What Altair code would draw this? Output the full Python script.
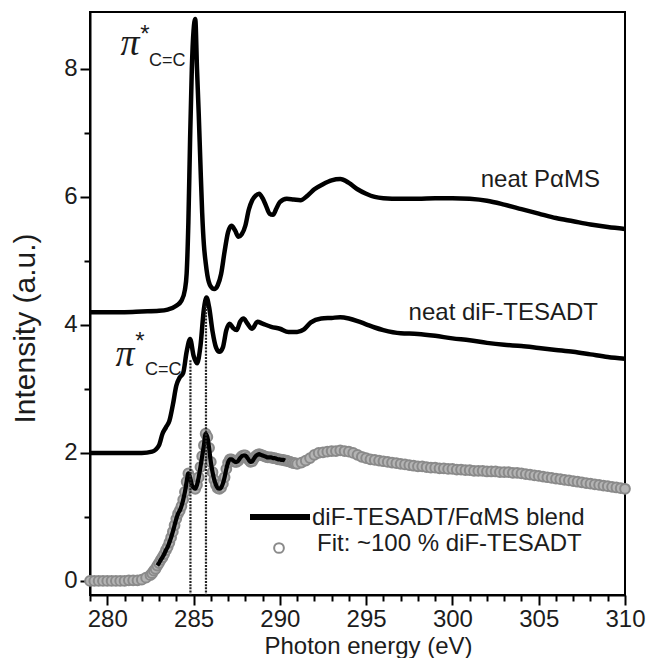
import altair as alt
import pandas as pd

# ---------------- data ----------------
pams_energy = [279, 280, 281, 282, 283, 283.5, 284.0, 284.3, 284.5, 284.6, 284.7, 284.8, 284.9,
               285.0, 285.1, 285.2, 285.3, 285.4, 285.5, 285.6, 285.7, 285.8, 286.0, 286.2, 286.4,
               286.6, 286.8, 287.0, 287.2, 287.4, 287.6, 287.8, 288.0, 288.2, 288.4, 288.6, 288.8,
               289.0, 289.2, 289.4, 289.6, 289.8, 290.0, 290.4, 290.8, 291.2, 291.6, 292.0, 292.5,
               293.0, 293.5, 294.0, 294.5, 295.0, 295.5, 296, 297, 298, 299, 300, 301, 302, 303,
               304, 305, 306, 307, 308, 309, 310]
pams_intensity = [4.20, 4.20, 4.20, 4.21, 4.22, 4.24, 4.30, 4.38, 4.55, 4.80, 5.60, 6.90, 8.00,
                  8.60, 8.78, 8.00, 7.30, 6.50, 5.75, 5.25, 4.98, 4.78, 4.60, 4.56, 4.62,
                  4.80, 5.15, 5.45, 5.55, 5.48, 5.38, 5.42, 5.55, 5.80, 5.95, 6.02, 6.05,
                  5.98, 5.86, 5.74, 5.72, 5.82, 5.92, 5.97, 5.96, 5.95, 6.02, 6.12, 6.20,
                  6.26, 6.28, 6.22, 6.12, 6.05, 6.00, 5.98, 5.97, 5.97, 5.98, 5.98, 5.97, 5.94, 5.88,
                  5.81, 5.74, 5.67, 5.62, 5.57, 5.53, 5.50]

dif_energy = [279, 280, 281, 282, 282.6, 283.0, 283.2, 283.4, 283.6, 283.8, 284.0, 284.2, 284.4,
              284.6, 284.8, 285.0, 285.2, 285.4, 285.6, 285.75, 285.9, 286.1, 286.3, 286.5, 286.7,
              286.9, 287.1, 287.3, 287.5, 287.7, 287.9, 288.1, 288.4, 288.7, 289.0, 289.5, 290.0,
              290.5, 291.0, 291.4, 291.8, 292.4, 293.0, 293.5, 294.0, 294.5, 295.0, 295.5, 296.0,
              297.0, 298.0, 299.0, 300.0, 301.0, 302.0, 303.0, 304.0, 305.0, 306.0, 307.0, 308.0,
              309.0, 310.0]
dif_intensity = [2.00, 2.00, 2.00, 2.00, 2.02, 2.12, 2.30, 2.40, 2.50, 2.75, 3.05, 3.18, 3.25,
                 3.58, 3.78, 3.52, 3.40, 3.67, 4.25, 4.43, 4.28, 3.90, 3.65, 3.58, 3.65,
                 3.92, 4.02, 3.95, 3.92, 4.05, 4.10, 4.03, 3.94, 4.05, 4.02, 3.97, 3.94,
                 3.89, 3.89, 3.93, 4.04, 4.10, 4.11, 4.12, 4.10, 4.06, 4.01, 3.96, 3.92,
                 3.87, 3.86, 3.83, 3.79, 3.76, 3.72, 3.69, 3.67, 3.64, 3.61, 3.58, 3.54,
                 3.50, 3.47]

blend_energy = [
    279.0, 279.25, 279.5, 279.75, 280.0, 280.25, 280.5, 280.75, 281.0, 281.25, 281.5, 281.75, 282.0, 282.25,
    282.5, 282.6, 282.7, 282.8, 282.9,
    283.0, 283.1, 283.2, 283.3, 283.4, 283.5, 283.6, 283.7, 283.8, 283.9,
    284.0, 284.1, 284.2, 284.3, 284.4, 284.5, 284.6, 284.7, 284.8, 284.9,
    285.0, 285.1, 285.2, 285.3, 285.4, 285.5, 285.6, 285.7, 285.8, 285.9,
    286.0, 286.1, 286.2, 286.3, 286.4, 286.5, 286.6, 286.7, 286.8, 286.9,
    287.0, 287.1, 287.2, 287.3, 287.4, 287.5, 287.6, 287.7, 287.8, 287.9,
    288.0, 288.1, 288.2, 288.3, 288.4, 288.5, 288.6, 288.7, 288.8, 288.9,
    289.0, 289.1, 289.2, 289.3, 289.4, 289.5, 289.6, 289.7, 289.8, 289.9,
    290.0, 290.1, 290.2, 290.3, 290.4, 290.5, 290.6, 290.7, 290.8, 290.9,
    291.0,
    291.25, 291.5, 291.75, 292.0, 292.25, 292.5, 292.75, 293.0, 293.25, 293.5, 293.75, 294.0,
    294.25, 294.5, 294.75, 295.0, 295.25, 295.5, 295.75, 296.0, 296.25, 296.5, 296.75, 297.0,
    297.25, 297.5, 297.75, 298.0, 298.25, 298.5, 298.75, 299.0, 299.25, 299.5, 299.75, 300.0,
    300.25, 300.5, 300.75, 301.0, 301.25, 301.5, 301.75, 302.0, 302.25, 302.5, 302.75, 303.0,
    303.25, 303.5, 303.75, 304.0, 304.25, 304.5, 304.75, 305.0, 305.25, 305.5, 305.75, 306.0,
    306.25, 306.5, 306.75, 307.0, 307.25, 307.5, 307.75, 308.0, 308.25, 308.5, 308.75, 309.0,
    309.25, 309.5, 309.75, 310.0]
blend_intensity = [
    0.00, 0.00, 0.00, 0.00, 0.00, 0.00, 0.00, 0.00, 0.00, 0.01, 0.01, 0.01, 0.02, 0.05,
    0.09, 0.12, 0.16, 0.19, 0.24,
    0.28, 0.33, 0.37, 0.42, 0.48, 0.53, 0.60, 0.68, 0.77, 0.87,
    0.97, 1.05, 1.10, 1.17, 1.27, 1.39, 1.55, 1.68, 1.62, 1.50,
    1.46, 1.44, 1.50, 1.62, 1.78, 1.95, 2.12, 2.30, 2.25, 2.08,
    1.86, 1.70, 1.58, 1.50, 1.45, 1.44, 1.46, 1.52, 1.62, 1.75,
    1.85, 1.90, 1.90, 1.88, 1.86, 1.86, 1.88, 1.92, 1.95, 1.96,
    1.96, 1.93, 1.89, 1.86, 1.87, 1.91, 1.95, 1.97, 1.98, 1.97,
    1.96, 1.95, 1.94, 1.93, 1.93, 1.93, 1.92, 1.92, 1.91, 1.90,
    1.90, 1.89, 1.89, 1.88, 1.88, 1.87, 1.86, 1.85, 1.84, 1.84,
    1.83,
    1.85, 1.88, 1.92, 1.97, 2.00, 2.01, 2.02, 2.03, 2.03, 2.04, 2.03, 2.02,
    2.00, 1.97, 1.94, 1.92, 1.90, 1.89, 1.88, 1.87, 1.86, 1.85, 1.84, 1.83,
    1.82, 1.81, 1.80, 1.79, 1.79, 1.78, 1.77, 1.77, 1.76, 1.76, 1.75, 1.75,
    1.74, 1.74, 1.73, 1.73, 1.72, 1.72, 1.72, 1.71, 1.71, 1.71, 1.70, 1.70,
    1.70, 1.69, 1.69, 1.68, 1.67, 1.66, 1.65, 1.64, 1.63, 1.62, 1.61, 1.60,
    1.59, 1.58, 1.57, 1.56, 1.55, 1.54, 1.53, 1.52, 1.51, 1.50, 1.49, 1.48,
    1.47, 1.46, 1.45, 1.44]

marker_energy = [284.82, 285.72]
marker_top = [3.45, 4.30]

x_major = [280, 285, 290, 295, 300, 305, 310]
x_minor = [279, 281, 282, 283, 284, 286, 287, 288, 289, 291, 292, 293, 294, 296, 297, 298, 299,
           301, 302, 303, 304, 306, 307, 308, 309]
y_major = [0, 2, 4, 6, 8]
y_minor = [1, 3, 5, 7]

# ---------------- layout constants ----------------
W, H = 535, 583
FONT = "Liberation Sans"
INK = "#1c1c1c"
XDOM = [279, 310]
YDOM = [-0.22, 8.89]

pams = pd.DataFrame({"energy": pams_energy, "intensity": pams_intensity})
dif = pd.DataFrame({"energy": dif_energy, "intensity": dif_intensity})
blend = pd.DataFrame({"energy": blend_energy, "intensity": blend_intensity})
markers = pd.DataFrame({"energy": marker_energy, "top": marker_top})

xscale = alt.Scale(domain=XDOM, nice=False, zero=False)
yscale = alt.Scale(domain=YDOM, nice=False, zero=False)

x_axis = alt.Axis(values=x_major, orient="bottom", tickSize=10, tickWidth=2, tickColor="black",
                  domainColor="black", domainWidth=2, grid=False, labelFont=FONT, labelFontSize=24,
                  labelFontWeight="normal", labelColor=INK, labelPadding=2, labelFlush=False,
                  labelOverlap=False,
                  title="Photon energy (eV)", titleFont=FONT, titleFontSize=24,
                  titleFontWeight="normal", titleColor=INK, titleX=278, titleY=58,
                  titleAlign="center", titleBaseline="alphabetic")
y_axis = alt.Axis(values=y_major, orient="left", tickSize=10, tickWidth=2, tickColor="black",
                  domainColor="black", domainWidth=2, grid=False, labelFont=FONT, labelFontSize=24,
                  labelFontWeight="normal", labelColor=INK, labelPadding=3,
                  title="Intensity (a.u.)", titleFont=FONT, titleFontSize=30,
                  titleFontWeight="normal", titleColor=INK, titleX=-65, titleY=316,
                  titleAngle=-90, titleAlign="center", titleBaseline="middle")
x_axis_minor = alt.Axis(values=x_minor, orient="bottom", tickSize=6, tickWidth=2, tickColor="black",
                        domain=False, labels=False, grid=False, title=None)
y_axis_minor = alt.Axis(values=y_minor, orient="left", tickSize=6, tickWidth=2, tickColor="black",
                        domain=False, labels=False, grid=False, title=None)

# only one layer draws each axis; the rest share the scales silently
Xa = alt.X("energy:Q", scale=xscale, axis=x_axis)
Ya = alt.Y("intensity:Q", scale=yscale, axis=y_axis)
X = alt.X("energy:Q", scale=xscale, axis=None)
Y = alt.Y("intensity:Q", scale=yscale, axis=None)

minor_layer = alt.Chart(blend).mark_point(opacity=0).encode(
    x=alt.X("energy:Q", scale=xscale, axis=x_axis_minor),
    y=alt.Y("intensity:Q", scale=yscale, axis=y_axis_minor),
)

line_style = dict(color="black", strokeWidth=4.5, interpolate="monotone", clip=True)
pams_line = alt.Chart(pams).mark_line(**line_style).encode(x=Xa, y=Ya)
dif_line = alt.Chart(dif).mark_line(**line_style).encode(x=X, y=Y)
fit_points = alt.Chart(blend).mark_point(
    shape="circle", size=95, filled=False, fill="#b4b4b4", fillOpacity=1,
    stroke="#8a8a8a", strokeWidth=2, opacity=1
).encode(x=X, y=Y)
# the measured blend line shows through the fit circles only where the edge is steep
blend_line = alt.Chart(blend).transform_filter(
    (alt.datum.energy >= 282.9) & (alt.datum.energy <= 290.3)
).mark_line(color="black", strokeWidth=4.2, interpolate="monotone").encode(x=X, y=Y)

marker_rules = alt.Chart(markers).mark_rule(color="#222222", strokeWidth=2.2,
                                            strokeDash=[2, 1.2]).encode(
    x=alt.X("energy:Q", scale=xscale, axis=None),
    y=alt.Y("top:Q", scale=yscale, axis=None),
    y2=alt.value(H),
)


def label(text, x, y, size, align="left", baseline="middle", font=FONT, style="normal"):
    return alt.Chart(pd.DataFrame({"t": [text]})).mark_text(
        align=align, baseline=baseline, font=font, fontSize=size, fontStyle=style, color=INK
    ).encode(text="t:N", x=alt.value(x), y=alt.value(y))


annotations = [
    label("π", 40, 32, 38, align="center", font="Liberation Serif", style="italic"),
    label("*", 55, 23, 24, align="center"),
    label("C=C", 59, 49, 18),
    label("π", 35, 343, 38, align="center", font="Liberation Serif", style="italic"),
    label("*", 50, 330, 24, align="center"),
    label("C=C", 55, 358, 18),
    label("neat PαMS", 510, 175, 24, align="right", baseline="alphabetic"),
    label("neat diF-TESADT", 508, 308, 24, align="right", baseline="alphabetic"),
    label("diF-TESADT/FαMS blend", 222, 506, 24),
    label("Fit: ~100 % diF-TESADT", 227, 532, 24),
]

legend_line = alt.Chart(pd.DataFrame({"k": ["blend"]})).mark_rule(
    color="black", strokeWidth=6).encode(x=alt.value(160), x2=alt.value(220), y=alt.value(505))
legend_circle = alt.Chart(pd.DataFrame({"k": ["fit"]})).mark_point(
    shape="circle", size=95, filled=False, color="#8a8a8a", strokeWidth=2, opacity=1
).encode(x=alt.value(189), y=alt.value(536))

chart = alt.layer(
    pams_line, dif_line, fit_points, blend_line, marker_rules, minor_layer,
    legend_line, legend_circle, *annotations
).resolve_axis(x="independent", y="independent").properties(
    width=W, height=H,
    padding={"left": 82, "top": 4, "right": 21, "bottom": 63},
    autosize=alt.AutoSizeParams(type="none"),
).configure_view(stroke="black", strokeWidth=2)

chart.save("out.html", embed_options={"renderer": "svg", "actions": False})
